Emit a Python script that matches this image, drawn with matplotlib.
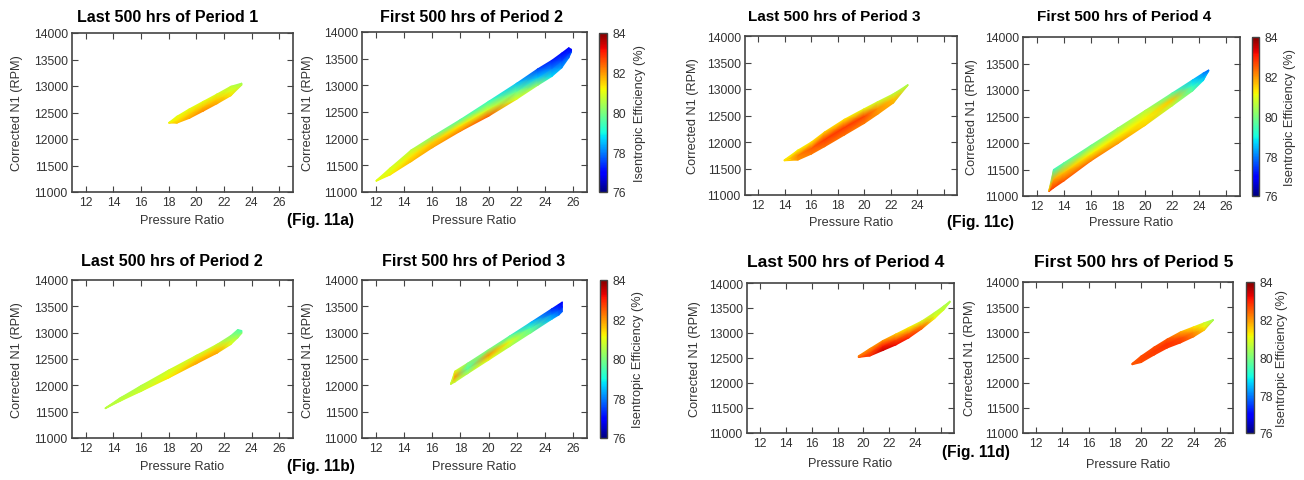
import numpy as np
import matplotlib
matplotlib.use('Agg')
import matplotlib.pyplot as plt
from matplotlib.colors import Normalize

plt.rcParams['font.family'] = ['Liberation Sans', 'DejaVu Sans']

# ---------------- data ----------------
titles = ["Last 500 hrs of Period 1", "First 500 hrs of Period 2",
          "Last 500 hrs of Period 3", "First 500 hrs of Period 4",
          "Last 500 hrs of Period 2", "First 500 hrs of Period 3",
          "Last 500 hrs of Period 4", "First 500 hrs of Period 5"]
fig_labels = ["(Fig. 11a)", "(Fig. 11b)", "(Fig. 11c)", "(Fig. 11d)"]
x_ticks = [12, 14, 16, 18, 20, 22, 24, 26]
y_ticks = [11000, 11500, 12000, 12500, 13000, 13500, 14000]
cbar_ticks = [76, 78, 80, 82, 84]

# Panel 1: Last 500 hrs of Period 1
p1_pr      = [18.0, 18.6, 19.5, 20.5, 21.5, 22.5, 23.3]
p1_n1_lo   = [12300, 12300, 12390, 12525, 12665, 12815, 13020]
p1_n1_hi   = [12310, 12430, 12570, 12710, 12850, 12995, 13055]
p1_eff_lo  = [81.4, 81.6, 81.9, 82.1, 81.9, 81.4, 80.6]
p1_eff_mid = [81.2, 81.3, 81.5, 81.6, 81.5, 81.0, 80.5]
p1_eff_hi  = [81.0, 81.0, 81.0, 81.0, 80.9, 80.6, 80.3]

# Panel 2: First 500 hrs of Period 2
p2_pr      = [12.0, 13.0, 14.5, 16.0, 18.0, 20.0, 22.0, 23.5, 24.5, 25.2, 25.7, 25.9]
p2_n1_lo   = [11200, 11320, 11570, 11830, 12140, 12420, 12740, 13000, 13165, 13325, 13512, 13625]
p2_n1_hi   = [11215, 11450, 11790, 12040, 12360, 12700, 13040, 13310, 13470, 13605, 13705, 13675]
p2_eff_lo  = [81.0, 81.3, 81.7, 81.9, 82.2, 82.5, 81.0, 80.3, 78.8, 78.3, 78.0, 77.8]
p2_eff_mid = [81.0, 81.0, 81.3, 81.5, 81.3, 80.8, 79.8, 78.5, 78.0, 77.6, 77.3, 77.2]
p2_eff_hi  = [81.0, 80.9, 80.6, 80.0, 79.6, 79.3, 78.5, 77.5, 77.2, 77.0, 77.0, 77.0]

# Panel 3: Last 500 hrs of Period 3
p3_pr      = [13.95, 15.0, 16.0, 17.0, 18.5, 20.0, 21.0, 22.2, 23.3]
p3_n1_lo   = [11645, 11660, 11770, 11910, 12130, 12350, 12520, 12735, 13070]
p3_n1_hi   = [11660, 11850, 12000, 12190, 12430, 12630, 12760, 12910, 13085]
p3_eff_lo  = [81.3, 82.0, 82.2, 82.3, 82.3, 82.2, 82.0, 81.8, 80.6]
p3_eff_mid = [81.3, 82.2, 82.5, 82.8, 82.8, 82.7, 82.0, 81.6, 80.5]
p3_eff_hi  = [81.3, 81.2, 81.3, 81.5, 81.3, 81.0, 80.8, 80.6, 80.4]

# Panel 4: First 500 hrs of Period 4
p4_pr      = [12.9, 13.25, 14.0, 16.0, 18.0, 20.0, 22.0, 23.5, 24.3, 24.7]
p4_n1_lo   = [11080, 11150, 11280, 11660, 11990, 12330, 12700, 12980, 13180, 13360]
p4_n1_hi   = [11100, 11500, 11624, 11954, 12284, 12614, 12944, 13190, 13322, 13380]
p4_eff_lo  = [82.8, 82.8, 82.6, 82.3, 82.0, 81.5, 80.6, 79.8, 78.8, 78.2]
p4_eff_mid = [82.2, 81.8, 81.6, 81.2, 81.2, 81.2, 81.6, 79.2, 78.4, 78.0]
p4_eff_hi  = [81.5, 79.3, 79.6, 79.8, 80.2, 80.5, 79.6, 78.6, 78.0, 77.8]

# Panel 5: Last 500 hrs of Period 2
p5_pr      = [13.4, 14.5, 16.0, 18.0, 20.0, 21.5, 22.5, 23.0, 23.3]
p5_n1_lo   = [11555, 11700, 11885, 12140, 12410, 12610, 12775, 12900, 12990]
p5_n1_hi   = [11570, 11765, 11995, 12290, 12570, 12780, 12945, 13060, 13040]
p5_eff_lo  = [80.6, 80.7, 80.8, 81.3, 81.9, 81.9, 81.0, 80.5, 80.3]
p5_eff_mid = [80.6, 80.6, 80.7, 81.0, 81.5, 81.5, 80.7, 80.0, 79.8]
p5_eff_hi  = [80.6, 80.5, 80.5, 80.8, 80.8, 80.7, 80.0, 79.6, 79.5]

# Panel 6: First 500 hrs of Period 3
p6_pr      = [17.3, 17.6, 18.5, 20.0, 21.5, 23.0, 24.5, 25.0, 25.25]
p6_n1_lo   = [12015, 12060, 12220, 12478, 12737, 12995, 13255, 13335, 13400]
p6_n1_hi   = [12030, 12270, 12420, 12679, 12937, 13195, 13454, 13540, 13585]
p6_eff_lo  = [80.5, 80.8, 80.5, 81.0, 80.5, 80.0, 78.5, 78.0, 77.8]
p6_eff_mid = [80.8, 82.0, 79.6, 82.0, 81.0, 79.5, 78.0, 77.5, 77.2]
p6_eff_hi  = [80.6, 81.0, 80.0, 80.0, 79.5, 78.5, 77.3, 77.0, 77.0]

# Panel 7: Last 500 hrs of Period 4
p7_pr      = [19.6, 20.5, 21.5, 22.5, 23.5, 24.5, 25.5, 26.2, 26.7]
p7_n1_lo   = [12510, 12540, 12650, 12760, 12900, 13080, 13290, 13460, 13620]
p7_n1_hi   = [12540, 12690, 12850, 12980, 13110, 13240, 13410, 13540, 13640]
p7_eff_lo  = [82.6, 82.9, 83.5, 83.2, 83.0, 82.5, 81.2, 80.8, 80.6]
p7_eff_mid = [82.3, 82.6, 83.0, 82.6, 82.3, 82.0, 80.9, 80.6, 80.5]
p7_eff_hi  = [82.2, 82.0, 82.0, 81.5, 81.2, 80.9, 80.6, 80.5, 80.4]

# Panel 8: First 500 hrs of Period 5
p8_pr      = [19.3, 20.0, 21.0, 22.0, 23.0, 24.0, 24.8, 25.5]
p8_n1_lo   = [12355, 12400, 12550, 12690, 12790, 12910, 13040, 13240]
p8_n1_hi   = [12380, 12530, 12710, 12870, 13010, 13110, 13190, 13255]
p8_eff_lo  = [82.5, 82.6, 82.7, 82.8, 82.8, 82.3, 81.6, 80.4]
p8_eff_mid = [82.5, 82.7, 82.8, 82.9, 82.6, 82.0, 81.2, 80.3]
p8_eff_hi  = [82.5, 82.6, 82.6, 82.5, 81.8, 81.3, 80.8, 80.2]

panels = [
    (p1_pr, p1_n1_lo, p1_n1_hi, p1_eff_lo, p1_eff_mid, p1_eff_hi),
    (p2_pr, p2_n1_lo, p2_n1_hi, p2_eff_lo, p2_eff_mid, p2_eff_hi),
    (p3_pr, p3_n1_lo, p3_n1_hi, p3_eff_lo, p3_eff_mid, p3_eff_hi),
    (p4_pr, p4_n1_lo, p4_n1_hi, p4_eff_lo, p4_eff_mid, p4_eff_hi),
    (p5_pr, p5_n1_lo, p5_n1_hi, p5_eff_lo, p5_eff_mid, p5_eff_hi),
    (p6_pr, p6_n1_lo, p6_n1_hi, p6_eff_lo, p6_eff_mid, p6_eff_hi),
    (p7_pr, p7_n1_lo, p7_n1_hi, p7_eff_lo, p7_eff_mid, p7_eff_hi),
    (p8_pr, p8_n1_lo, p8_n1_hi, p8_eff_lo, p8_eff_mid, p8_eff_hi),
]

# ---------------- layout (pixels) ----------------
W, H = 1304, 481
fig = plt.figure(figsize=(W / 100, H / 100), dpi=100)

def rect(l, r, t, b):
    return [l / W, 1 - b / H, (r - l) / W, (b - t) / H]

ax_px = [(72, 293, 34, 193), (362, 587, 33, 193), (745, 957, 37, 196), (1023, 1240, 38, 197),
         (72, 293, 281, 439), (362, 587, 281, 439), (747, 954, 284, 434), (1023, 1233, 283, 434)]
cb_px = {1: (599, 607, 34, 193), 3: (1252, 1259, 38, 197),
         5: (600, 607, 281, 439), 7: (1246, 1254, 283, 434)}
cb_label_x = {1: 640, 3: 1290, 5: 638, 7: 1282}
title_pos = [(168, 18), (472, 17), (834, 17), (1124, 17),
             (172, 262), (474, 262), (846, 263), (1134, 263)]
title_fs = [11.5, 11.5, 11.0, 11.0, 11.6, 11.5, 12.6, 12.6]
ylabel_x = [17, 308, 693, 972, 17, 308, 695, 970]
xlabel_y = [221, 221, 223, 223, 467, 467, 464, 465]
hide26 = [False, False, True, False, False, False, True, False]
fig_label_pos = [(287, 221), (287, 466), (947, 222), (942, 453)]

txt_col = '#333333'
spine_col = '#444444'
norm = Normalize(vmin=76, vmax=84)
cmap = plt.get_cmap('jet')

for i, (pr, lo, hi, elo, emid, ehi) in enumerate(panels):
    ax = fig.add_axes(rect(*ax_px[i]))
    pr = np.asarray(pr, float)
    lo = np.asarray(lo, float)
    hi = np.asarray(hi, float)
    X = np.vstack([pr, pr, pr])
    Y = np.vstack([lo, (lo + hi) / 2, hi])
    C = np.vstack([elo, emid, ehi])
    mesh = ax.pcolormesh(X, Y, C, shading='gouraud', cmap=cmap, norm=norm)
    ax.set_xlim(11, 27)
    ax.set_ylim(11000, 14000)
    ax.set_xticks(x_ticks)
    labels = [str(t) for t in x_ticks]
    if hide26[i]:
        labels[-1] = ''
    ax.set_xticklabels(labels)
    ax.set_yticks(y_ticks)
    ax.tick_params(direction='in', top=True, right=True, length=4.5, width=0.8,
                   color=spine_col, labelsize=8.7, labelcolor=txt_col, pad=3)
    for s in ax.spines.values():
        s.set_color(spine_col)
        s.set_linewidth(1.2)
    ax.set_xlabel("Pressure Ratio", fontsize=9.2, color=txt_col)
    ax.set_ylabel("Corrected N1 (RPM)", fontsize=9.2, color=txt_col)
    l, r, t, b = ax_px[i]
    ax.xaxis.label.set_va('center')
    ax.yaxis.label.set_va('center')
    ax.xaxis.set_label_coords((l + r) / 2 / W, 1 - xlabel_y[i] / H, transform=fig.transFigure)
    ax.yaxis.set_label_coords(ylabel_x[i] / W, 1 - (t + b) / 2 / H, transform=fig.transFigure)
    tx, ty = title_pos[i]
    fig.text(tx / W, 1 - ty / H, titles[i], ha='center', va='center',
             fontsize=title_fs[i], fontweight='bold', color='black')
    if i in cb_px:
        cax = fig.add_axes(rect(*cb_px[i]))
        cb = fig.colorbar(mesh, cax=cax, ticks=cbar_ticks)
        cb.outline.set_edgecolor(spine_col)
        cb.outline.set_linewidth(1.0)
        cax.tick_params(labelsize=8.7, labelcolor=txt_col, length=0, pad=4)
        cl, cr, ct, cbm = cb_px[i]
        fig.text(cb_label_x[i] / W, 1 - (ct + cbm) / 2 / H, "Isentropic Efficiency (%)",
                 rotation=90, ha='center', va='center', fontsize=9.2, color=txt_col)

for lab, (fx, fy) in zip(fig_labels, fig_label_pos):
    fig.text(fx / W, 1 - fy / H, lab, ha='left', va='center', fontsize=11.2,
             fontweight='bold', color='black')

fig.savefig('out.png', dpi=100)
